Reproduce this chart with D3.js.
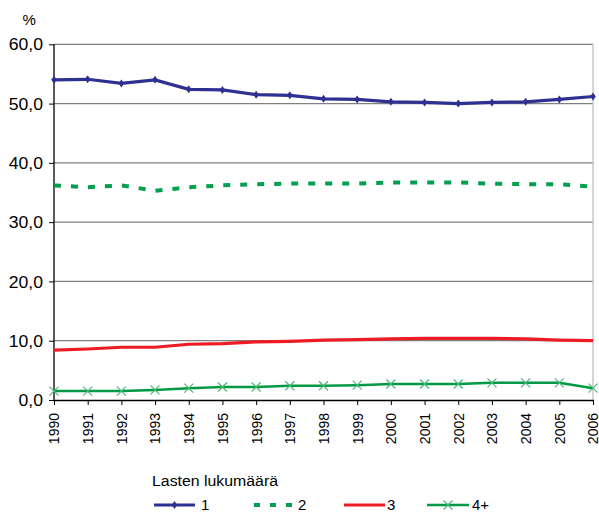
<!DOCTYPE html>
<html><head><meta charset="utf-8">
<script src="https://cdn.jsdelivr.net/npm/d3@7"></script>
<style>body{margin:0;background:#fff}svg{display:block;font-family:"Liberation Sans",Arial,sans-serif}</style>
</head><body>
<script>
const years = [1990,1991,1992,1993,1994,1995,1996,1997,1998,1999,2000,2001,2002,2003,2004,2005,2006];
const s1 = [54.0,54.1,53.4,54.0,52.4,52.3,51.5,51.4,50.8,50.7,50.3,50.2,50.0,50.2,50.3,50.7,51.2];
const s2 = [36.2,35.9,36.2,35.3,35.9,36.2,36.4,36.5,36.5,36.5,36.7,36.7,36.7,36.5,36.4,36.4,36.0];
const s3 = [8.4,8.6,8.9,8.9,9.4,9.5,9.8,9.9,10.1,10.2,10.3,10.4,10.4,10.4,10.3,10.1,10.0];
const s4 = [1.5,1.5,1.5,1.7,2.0,2.2,2.2,2.4,2.4,2.5,2.7,2.7,2.7,2.9,2.9,2.9,2.0];
const yTicks = [0,10,20,30,40,50,60];
const seriesNames = ["1","2","3","4+"];
const legendTitle = "Lasten lukumäärä";

const W=599,H=513;
const svg=d3.select("body").append("svg").attr("width",W).attr("height",H);
const x=d3.scalePoint().domain(years).range([54,593]);
const y=d3.scaleLinear().domain([0,60]).range([400,44.3]);
const fmt=v=>d3.format(".1f")(v).replace(".",",");
const stretch=(sel,k)=>sel.each(function(){const w=this.getComputedTextLength();d3.select(this).attr("textLength",w*k).attr("lengthAdjust","spacingAndGlyphs");});

// gridlines
svg.append("g").selectAll("line").data(yTicks.filter(d=>d>0)).join("line")
 .attr("x1",54).attr("x2",593).attr("y1",d=>y(d)).attr("y2",d=>y(d))
 .attr("stroke","#808080").attr("stroke-width",1.3);
// right border
svg.append("line").attr("x1",593).attr("x2",593).attr("y1",y(60)).attr("y2",400)
 .attr("stroke","#c0c0c0").attr("stroke-width",1.3);

// y axis
const ya=svg.append("g").attr("transform","translate(54,0)")
 .call(d3.axisLeft(y).tickValues(yTicks).tickFormat(fmt).tickSize(5).tickPadding(6));
ya.select(".domain").attr("stroke","#000").attr("stroke-width",1.3).attr("d","M0,"+y(60)+"V400");
ya.selectAll(".tick line").attr("stroke","#000");
ya.selectAll("text").attr("font-size",16).attr("fill","#000").attr("dy","0.35em")
 .attr("font-family","Liberation Sans, Arial, sans-serif").call(stretch,1.1);

// x axis
const xa=svg.append("g").attr("transform","translate(0,400)")
 .call(d3.axisBottom(x).tickSize(5).tickSizeOuter(0));
xa.select(".domain").attr("stroke","#000").attr("stroke-width",1.3);
xa.selectAll(".tick line").attr("stroke","#000");
xa.selectAll("text").attr("font-size",14).attr("fill","#000").attr("font-family","Liberation Sans, Arial, sans-serif")
 .attr("transform","rotate(-90)").attr("text-anchor","end").attr("x",-13).attr("y",0).attr("dy","0.35em");

// % label
svg.append("text").attr("x",22.5).attr("y",25).attr("font-size",15).text("%");

const line=d3.line().x((d,i)=>x(years[i])).y(d=>y(d));
// series 2 dashed
svg.append("path").datum(s2).attr("d",line).attr("fill","none").attr("stroke","#00A04E")
 .attr("stroke-width",4).attr("stroke-dasharray","7,10");
// series 3
svg.append("path").datum(s3).attr("d",line).attr("fill","none").attr("stroke","#ED1C24").attr("stroke-width",3.2);
// series 4
svg.append("path").datum(s4).attr("d",line).attr("fill","none").attr("stroke","#009944").attr("stroke-width",2.5);
const xm=(g,cx,cy,s)=>{g.append("path").attr("d",`M${cx-s},${cy-s}L${cx+s},${cy+s}M${cx-s},${cy+s}L${cx+s},${cy-s}`)
 .attr("stroke","#4DB877").attr("stroke-width",1.2).attr("fill","none");};
const g4=svg.append("g");
s4.forEach((v,i)=>xm(g4,x(years[i]),y(v),4.5));
// series 1
svg.append("path").datum(s1).attr("d",line).attr("fill","none").attr("stroke","#2E3192").attr("stroke-width",3.2);
const diamond=(g,cx,cy,s)=>g.append("path").attr("d",`M${cx},${cy-s}L${cx+s*0.7},${cy}L${cx},${cy+s}L${cx-s*0.7},${cy}Z`).attr("fill","#2E3192");
const g1=svg.append("g");
s1.forEach((v,i)=>diamond(g1,x(years[i]),y(v),4));

// legend
svg.append("text").attr("x",152).attr("y",486).attr("font-size",14).attr("textLength",126).attr("lengthAdjust","spacingAndGlyphs").text(legendTitle);
const ly=505;
const lg=svg.append("g");
const items=[{lbl:201},{lbl:298},{lbl:387},{lbl:472}];
lg.append("line").attr("x1",154).attr("x2",195).attr("y1",ly).attr("y2",ly).attr("stroke","#2E3192").attr("stroke-width",3.2);
diamond(lg,174.5,ly,4);
lg.append("line").attr("x1",254).attr("x2",296).attr("y1",ly).attr("y2",ly).attr("stroke","#00A04E").attr("stroke-width",4).attr("stroke-dasharray","6,10");
lg.append("line").attr("x1",344).attr("x2",385).attr("y1",ly).attr("y2",ly).attr("stroke","#ED1C24").attr("stroke-width",3.2);
lg.append("line").attr("x1",427).attr("x2",469).attr("y1",ly).attr("y2",ly).attr("stroke","#009944").attr("stroke-width",2.5);
xm(lg,448,ly,4.5);
seriesNames.forEach((n,i)=>lg.append("text").attr("x",items[i].lbl).attr("y",ly).attr("dy","0.35em").attr("font-size",15).call(stretch,1.1).text(n));
</script>
</body></html>
